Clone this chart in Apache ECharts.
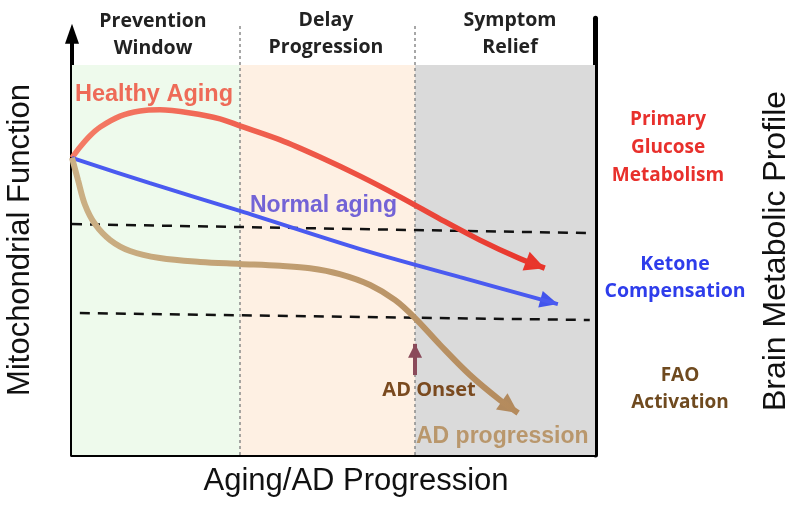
<!DOCTYPE html>
<html><head><meta charset="utf-8">
<script src="https://cdn.jsdelivr.net/npm/echarts@6/dist/echarts.min.js"></script>
<style>html,body{margin:0;padding:0;background:#fff}#c{width:800px;height:505px}</style>
</head><body><div id="c"></div>
<script>
// ---- data (x: 0..100 along Aging/AD progression, y: relative mitochondrial function) ----
const phaseNames = ['Prevention\nWindow', 'Delay\nProgression', 'Symptom\nRelief'];
const phaseBounds = [0, 32.1, 65.6, 100];
const phaseColors = ['#EEFAEC', '#FEF0E3', '#DADADA'];
const healthyAging = [[0,76.2],[1.5,78.9],[3.4,81.8],[5.4,84.1],[9.2,86.9],[13.0,88.2],[16.8,88.5],[22.6,87.7],[28.3,86.2],[32.1,84.4],[39.8,80.8],[47.4,76.4],[55.1,71.5],[62.7,66.2],[70.4,60.5],[78.0,55.1],[85.7,50.3],[90.4,47.9]];
const normalAging = [[0,76.2],[14.9,69.7],[32.1,62.6],[55.1,52.8],[74.2,45.6],[92.9,38.7]];
const adCurve = [[0,76.2],[1.15,70.5],[2.5,64.1],[4.4,59.2],[7.3,55.1],[11.1,52.3],[16.8,50.5],[24.5,49.5],[32.1,49.0],[39.8,48.5],[45.5,47.9],[51.2,46.4],[57.0,43.6],[61.8,39.7],[65.6,35.1],[70.4,28.2],[76.1,20.5],[81.8,14.1],[85.3,10.8]];
const upperThreshold = [[0,59.2],[99,56.9]];
const lowerThreshold = [[1.5,36.4],[99,34.6]];
const adOnsetArrow = [[65.6,20.5],[65.6,28.5]];

const chart = echarts.init(document.getElementById('c'));
const last2 = a => [a[a.length-2], a[a.length-1]];
function arrowLine(pts, color, size){
  return {
    silent: true, symbol: ['none','triangle'], symbolSize: size,
    symbolOffset: [0, [0, '50%']],
    label: {show:false},
    lineStyle: {color: color, width: 0.01, type:'solid'},
    emphasis:{disabled:true},
    data: [[{coord: pts[0]}, {coord: pts[1]}]]
  };
}
const boldFont = '"Open Sans", "Liberation Sans", sans-serif';
const plainFont = '"Liberation Sans", Arial, sans-serif';
const T = (x, y, text, font, fill, extra) => Object.assign({type:'text', x:x, y:y, z:100, zlevel:0,
  style: Object.assign({text:text, font:font, fill:fill, align:'center', verticalAlign:'middle'}, extra || {})});

const option = {
  animation: false,
  grid: [
    {left: 72, right: 205, top: 455 - 108*3.9, bottom: 50},
    {left: 72, right: 205, top: 455 - 112*3.9, bottom: 50}
  ],
  xAxis: [
    {gridIndex:0, type:'value', min:0, max:100, axisLine:{show:true, onZero:false, lineStyle:{color:'#000', width:4}}, axisTick:{show:false}, axisLabel:{show:false}, splitLine:{show:false}},
    {gridIndex:1, type:'value', min:0, max:100, show:false}
  ],
  yAxis: [
    {gridIndex:0, type:'value', min:0, max:108, axisLine:{show:true, onZero:false, symbol:['none','triangle'], symbolSize:[14,20], lineStyle:{color:'#000', width:4}}, axisTick:{show:false}, axisLabel:{show:false}, splitLine:{show:false}},
    {gridIndex:1, type:'value', min:0, max:112, position:'right', axisLine:{show:true, onZero:false, lineStyle:{color:'#000', width:5}}, axisTick:{show:false}, axisLabel:{show:false}, splitLine:{show:false}}
  ],
  series: [
    { // phase backgrounds
      type:'line', xAxisIndex:0, yAxisIndex:0, data:[], z:0, silent:true,
      markArea: { silent:true, data: phaseNames.map((n,i)=>[
        {xAxis: phaseBounds[i], yAxis: 0, itemStyle:{color: phaseColors[i]}},
        {xAxis: phaseBounds[i+1], yAxis: 100}
      ])}
    },
    { // phase dividers
      type:'line', xAxisIndex:1, yAxisIndex:1, data:[], z:1, silent:true,
      markLine: { silent:true, symbol:['none','none'], label:{show:false},
        lineStyle:{color:'#8a8a8a', width:1.5, type:[3,3]},
        data: [phaseBounds[1], phaseBounds[2]].map(x=>[{coord:[x,0]},{coord:[x,110.3]}]) }
    },
    { // thresholds
      type:'line', xAxisIndex:0, yAxisIndex:0, data:[], z:2, silent:true,
      markLine: { silent:true, symbol:['none','none'], label:{show:false},
        lineStyle:{color:'#111', width:2.5, type:[10,8]},
        data: [upperThreshold, lowerThreshold].map(t=>[{coord:t[0]},{coord:t[1]}]) }
    },
    {
      name:'Healthy Aging', type:'line', xAxisIndex:0, yAxisIndex:0, smooth:0.3, showSymbol:false, z:5,
      data: healthyAging,
      lineStyle:{width:5.5, color: new echarts.graphic.LinearGradient(0,0,1,0,[{offset:0,color:'#F47C66'},{offset:1,color:'#E8342B'}])},
      markLine: arrowLine(last2(healthyAging), '#E8342B', [20,20])
    },
    {
      name:'Normal aging', type:'line', xAxisIndex:0, yAxisIndex:0, smooth:0.3, showSymbol:false, z:5,
      data: normalAging,
      lineStyle:{width:4, color:'#4A5AF0'},
      markLine: arrowLine(last2(normalAging), '#4254EC', [17,18])
    },
    {
      name:'AD', type:'line', xAxisIndex:0, yAxisIndex:0, smooth:0.35, showSymbol:false, z:5,
      data: adCurve,
      lineStyle:{width:6, color: new echarts.graphic.LinearGradient(0,0,1,0,[{offset:0,color:'#CBB085'},{offset:1,color:'#B48A5C'}])},
      markLine: arrowLine(last2(adCurve), '#B28A5E', [20,20])
    },
    { // AD onset marker
      type:'line', xAxisIndex:0, yAxisIndex:0, data:[], z:6, silent:true,
      markLine: { silent:true, symbol:['none','triangle'], symbolSize:[14,14], symbolOffset:[0,[0,'50%']], label:{show:false},
        lineStyle:{color:'#8A4A5A', width:4, type:'solid'},
        data: [[{coord: adOnsetArrow[0]},{coord: adOnsetArrow[1]}]] }
    }
  ],
  graphic: { elements: [
    T(153, 35, phaseNames[0], 'bold 19.5px '+boldFont, '#222', {lineHeight:27}),
    T(326, 34, phaseNames[1], 'bold 19.5px '+boldFont, '#222', {lineHeight:27}),
    T(510, 34, phaseNames[2], 'bold 19.5px '+boldFont, '#222', {lineHeight:27}),
    T(75, 95, 'Healthy Aging', 'bold 23.5px '+plainFont, '#EE6B58', {align:'left'}),
    T(250, 206, 'Normal aging', 'bold 23px '+plainFont, '#7363D6', {align:'left'}),
    T(429, 390, 'AD Onset', 'bold 20px '+boldFont, '#7A4A1F'),
    T(416, 437, 'AD progression', 'bold 23px '+plainFont, '#B9976C', {align:'left'}),
    T(668, 148, 'Primary\nGlucose\nMetabolism', 'bold 19px '+boldFont, '#E8302C', {lineHeight:28}),
    T(675, 278, 'Ketone\nCompensation', 'bold 19.5px '+boldFont, '#2E3DEB', {lineHeight:27}),
    T(680, 389, 'FAO\nActivation', 'bold 19px '+boldFont, '#6F4A1F', {lineHeight:27}),
    Object.assign(T(20, 240, 'Mitochondrial Function', '31px '+plainFont, '#111'), {rotation: Math.PI/2}),
    T(356, 481, 'Aging/AD Progression', '31px '+plainFont, '#111'),
    Object.assign(T(776, 251, 'Brain Metabolic Profile', '32px '+plainFont, '#111'), {rotation: Math.PI/2})
  ]}
};
chart.setOption(option);
</script></body></html>
